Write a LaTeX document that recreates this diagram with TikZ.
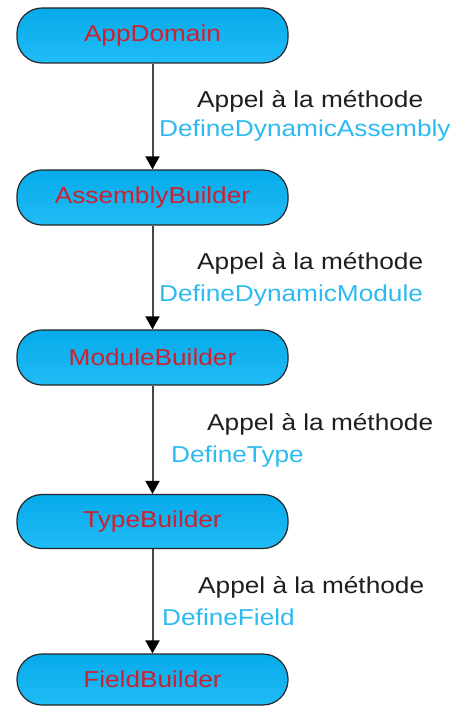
\documentclass[tikz,border=0pt]{standalone}
\usepackage{fontspec}
\setmainfont{Liberation Sans}[FakeStretch=1.14]
\usetikzlibrary{arrows.meta}
\definecolor{boxtop}{RGB}{6,170,234}
\definecolor{boxbot}{RGB}{32,188,246}
\definecolor{boxred}{RGB}{204,34,48}
\definecolor{lblblue}{RGB}{44,186,240}
\definecolor{lblblack}{RGB}{30,30,30}
\definecolor{linegray}{RGB}{70,70,70}
\tikzset{
  cls/.style={draw=black!85, line width=1.2pt, rounded corners=25pt,
    top color=boxtop, bottom color=boxbot,
    minimum width=271pt, minimum height=55pt, inner sep=0pt,
    text=boxred, font=\fontsize{23}{27}\selectfont},
  conn/.style={draw=linegray, line width=2pt,
    -{Triangle[length=13pt,width=14pt,fill=black,color=black]}},
  lbl/.style={anchor=base west, inner sep=0pt, text=lblblack,
    font=\fontsize{23}{27}\selectfont},
  meth/.style={anchor=base west, inner sep=0pt, text=lblblue,
    font=\fontsize{23}{27}\selectfont}
}
\begin{document}
\begin{tikzpicture}[x=1pt,y=-1pt]
\useasboundingbox (0,0) rectangle (460,706);
\node[cls] (app) at (152.5,35.5) {AppDomain};
\node[cls] (asm) at (152.5,197.5) {AssemblyBuilder};
\node[cls] (mod) at (152.5,357.5) {ModuleBuilder};
\node[cls, minimum height=54pt] (typ) at (152.5,521.5) {TypeBuilder};
\node[cls, minimum height=51pt] (fld) at (152.5,679.5) {FieldBuilder};
\draw[conn] (app.south) -- (asm.north);
\draw[conn] (asm.south) -- (mod.north);
\draw[conn] (mod.south) -- (typ.north);
\draw[conn] (typ.south) -- (fld.north);
\node[lbl] (l1a) at (197,107) {Appel à la méthode};
\node[meth] (l1b) at (159,136) {DefineDynamicAssembly};
\node[lbl] (l2a) at (197,269) {Appel à la méthode};
\node[meth] (l2b) at (159,301) {DefineDynamicModule};
\node[lbl] (l3a) at (207,430) {Appel à la méthode};
\node[meth] (l3b) at (171,462) {DefineType};
\node[lbl] (l4a) at (198,593) {Appel à la méthode};
\node[meth] (l4b) at (162,625) {DefineField};
\end{tikzpicture}
\end{document}
